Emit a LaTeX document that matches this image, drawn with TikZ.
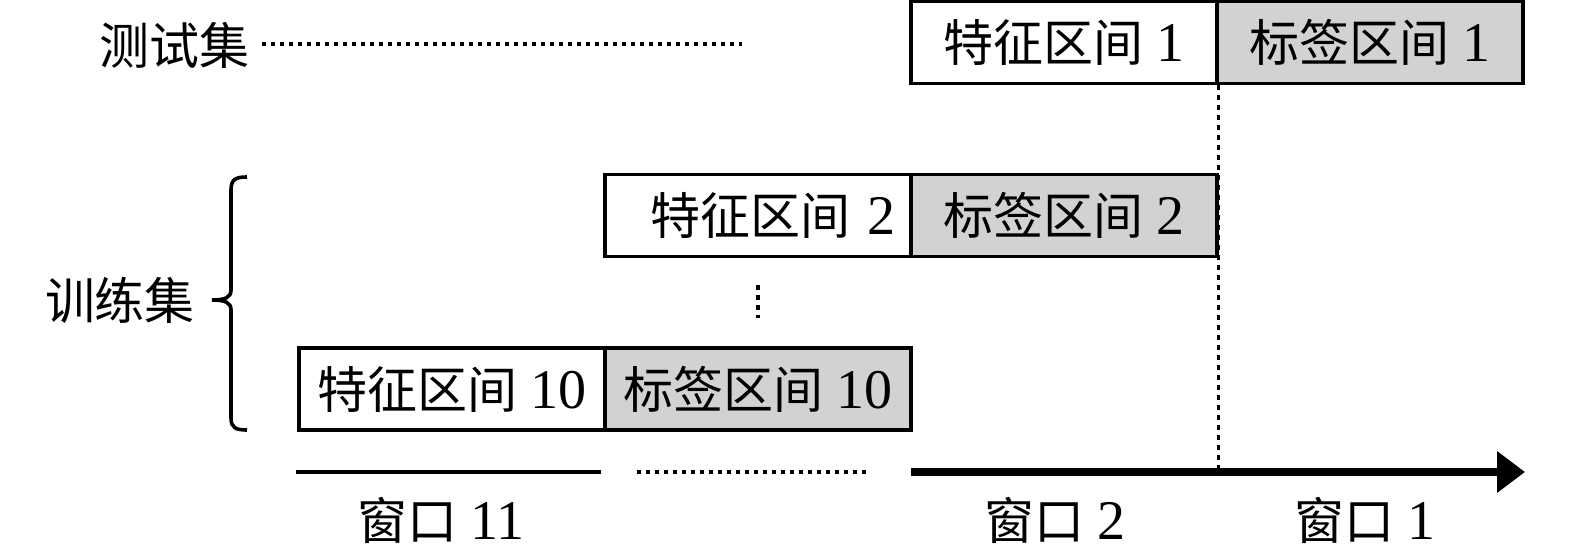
\documentclass[tikz,border=0pt]{standalone}
\usepackage{fontspec}
\setmainfont{Liberation Serif}
\newfontfamily\cjk{Noto Sans CJK SC}
\usetikzlibrary{arrows.meta}
\definecolor{lablgray}{RGB}{210,210,210}
\newcommand\dgt[1]{{\fontsize{28pt}{30pt}\selectfont #1}}
\begin{document}
\begin{tikzpicture}[x=0.5pt,y=-0.5pt,font=\fontsize{25pt}{30pt}\selectfont]
\useasboundingbox (0,0) rectangle (1575,557);
\tikzset{
  box/.style={draw,line width=1.6pt,minimum width=153pt,minimum height=41pt,inner sep=0pt,anchor=center},
  feat/.style={box,fill=white},
  labbox/.style={box,fill=lablgray},
  dots/.style={line width=2pt,dash pattern=on 2pt off 2.5pt},
  vdash/.style={line width=1.6pt,dash pattern=on 2.5pt off 2.5pt},
  txt/.style={inner sep=0pt,anchor=center},
}
% labels
\node[txt] (test) at (174,45) {\cjk 测试集};
\node[txt] (train) at (120,300) {\cjk 训练集};
% top row
\node[feat] (f1) at (1064,42.5) {{\cjk 特征区间} \dgt{1}};
\node[labbox] (l1) at (1370,42.5) {{\cjk 标签区间} \dgt{1}};
% second row
\node[feat,text width=137pt,align=right] (f2) at (758,215.5) {{\cjk 特征区间} \dgt{2}};
\node[labbox] (l2) at (1064,215.5) {{\cjk 标签区间} \dgt{2}};
% bottom row
\node[feat] (f10) at (452,389) {{\cjk 特征区间} \dgt{10}};
\node[labbox] (l10) at (758,389) {{\cjk 标签区间} \dgt{10}};
% coordinates
\coordinate (t0) at (262,44);
\coordinate (t1) at (742,44);
\coordinate (v0) at (758,285);
\coordinate (v1) at (758,318);
\coordinate (a0) at (296,472);
\coordinate (a1) at (601,472);
\coordinate (d0) at (637,472);
\coordinate (d1) at (870,472);
\coordinate (ar0) at (911,472);
\coordinate (ar1) at (1525,472);
% dotted lines
\draw[dots] (t0) -- (t1);
\draw[vdash] (v0) -- (v1);
\draw[vdash] (f1.south east) -- (f1.south east |- ar0);
% brace
\draw[line width=1.8pt] (247,177) .. controls (236,177) and (231,179) .. (231,190) -- (231,290)
  .. controls (231,297) and (226,300) .. (212,300)
  .. controls (226,300) and (231,303) .. (231,310) -- (231,418)
  .. controls (231,428) and (236,430) .. (247,430);
% axis
\draw[line width=1.6pt] (a0) -- (a1);
\draw[dots] (d0) -- (d1);
\draw[line width=4pt,-{Triangle[length=14pt,width=20pt]}] (ar0) -- (ar1);
% window labels
\node[txt] (w11) at (441,520) {{\cjk 窗口} \dgt{11}};
\node[txt] (w2) at (1055,520) {{\cjk 窗口} \dgt{2}};
\node[txt] (w1) at (1365,520) {{\cjk 窗口} \dgt{1}};
\end{tikzpicture}
\end{document}
